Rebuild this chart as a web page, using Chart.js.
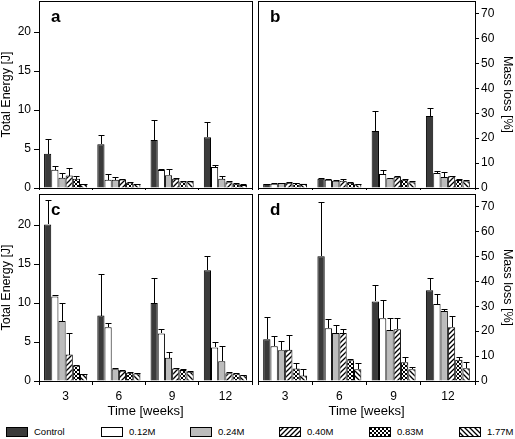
<!DOCTYPE html>
<html>
<head>
<meta charset="utf-8">
<script src="https://cdn.jsdelivr.net/npm/chart.js@4.4.1/dist/chart.umd.min.js"></script>
<style>
  body { margin: 0; background: #fff; width: 515px; height: 439px; position: relative; overflow: hidden;
         font-family: "Liberation Sans", Arial, sans-serif; }
  canvas.panel { position: absolute; }
  .sw { position: absolute; top: 427px; width: 22px; height: 10px; }
  .lt { position: absolute; top: 426px; font-size: 9.5px; line-height: 12px; color: #000; }
</style>
</head>
<body>
<canvas id="pa" class="panel" style="left:0;top:0" width="256" height="192"></canvas>
<canvas id="pb" class="panel" style="left:256px;top:0" width="259" height="192"></canvas>
<canvas id="pc" class="panel" style="left:0;top:192px" width="256" height="228"></canvas>
<canvas id="pd" class="panel" style="left:256px;top:192px" width="259" height="228"></canvas>
<div id="legend"></div>

<script>
// ---- data ----
const weeks = ['3', '6', '9', '12'];
const groups = ['Control', '0.12M', '0.24M', '0.40M', '0.83M', '1.77M'];

// a: total energy [J], means and upper error per group (rows follow `groups`)
const aMeans = [[4.4, 5.6, 6.15, 6.5], [2.35, 1.07, 2.3, 2.7], [1.3, 1.07, 1.65, 1.2],
                [1.6, 1.1, 1.2, 0.75], [1.2, 0.7, 0.85, 0.55], [0.5, 0.5, 0.85, 0.4]];
const aErrs  = [[1.9, 1.2, 2.55, 2.0], [0.45, 0.7, 0.1, 0.3], [0.6, 0.3, 0.75, 0.3],
                [1.0, 0.1, 0.1, 0.1], [0.3, 0.1, 0.1, 0.1], [0.05, 0.05, 0.05, 0.05]];
// b: mass loss [%]
const bMeans = [[1.6, 3.7, 22.9, 28.9], [1.7, 3.3, 5.6, 6.0], [2.0, 2.9, 3.9, 4.4],
                [2.1, 2.9, 4.5, 4.7], [2.0, 2.1, 3.3, 3.2], [1.7, 1.5, 2.3, 2.7]];
const bErrs  = [[0.2, 0.3, 7.8, 3.0], [0.2, 0.2, 1.5, 0.9], [0.2, 0.3, 0.3, 2.1],
                [0.2, 0.6, 0.3, 0.3], [0.2, 0.4, 0.4, 0.5], [0.1, 0.2, 0.4, 0.5]];
// c: total energy [J]
const cMeans = [[20.1, 8.4, 10.0, 14.2], [10.85, 6.9, 6.1, 4.3], [7.7, 1.5, 3.0, 2.55],
                [3.4, 1.3, 1.6, 1.0], [2.0, 1.05, 1.4, 0.95], [0.9, 0.95, 1.2, 0.75]];
const cErrs  = [[3.1, 5.3, 3.2, 1.8], [0.25, 0.5, 0.6, 0.7], [2.3, 0.2, 0.7, 1.95],
                [2.8, 0.1, 0.1, 0.1], [0.1, 0.1, 0.2, 0.1], [0.05, 0.05, 0.05, 0.05]];
// d: mass loss [%]
const dMeans = [[16.7, 50.0, 31.9, 36.4], [13.9, 21.2, 25.2, 30.9], [12.3, 19.3, 20.5, 28.1],
                [12.5, 19.3, 20.8, 21.6], [5.0, 8.3, 7.5, 8.5], [2.2, 4.7, 4.7, 5.1]];
const dErrs  = [[8.9, 21.7, 6.6, 5.1], [4.0, 3.5, 7.3, 3.8], [3.6, 3.1, 4.7, 0.9],
                [6.0, 1.6, 4.5, 4.4], [2.2, 0.4, 2.1, 1.1], [2.8, 2.6, 0.9, 2.4]];

const energyTicks = [0, 5, 10, 15, 20];
const massTicks = [0, 10, 20, 30, 40, 50, 60, 70];

const FONT = '"Liberation Sans", Arial, sans-serif';

// ---- fills: solid greys and hatch patterns ----
const makeTile = (size, draw) => {
  const c = document.createElement('canvas');
  c.width = c.height = size;
  const g = c.getContext('2d');
  g.fillStyle = '#fff'; g.fillRect(0, 0, size, size);
  g.strokeStyle = '#000'; g.lineWidth = 1.3;
  draw(g, size);
  return g.createPattern(c, 'repeat');
};
const fwd = (g, s) => { g.beginPath(); g.moveTo(-1, s + 1); g.lineTo(s + 1, -1);
  g.moveTo(-1, 1); g.lineTo(1, -1); g.moveTo(s - 1, s + 1); g.lineTo(s + 1, s - 1); g.stroke(); };
const back = (g, s) => { g.beginPath(); g.moveTo(-1, -1); g.lineTo(s + 1, s + 1);
  g.moveTo(s - 1, -1); g.lineTo(s + 1, 1); g.moveTo(-1, s - 1); g.lineTo(1, s + 1); g.stroke(); };
const fills = [
  '#3b3b3b',
  '#ffffff',
  '#bcbcbc',
  makeTile(5, fwd),
  makeTile(4, (g, s) => { g.lineWidth = 1; fwd(g, s); back(g, s); }),
  makeTile(5, back)
];

// ---- plugins ----
const framePlugin = {
  id: 'frame',
  afterDraw(chart) {
    const { ctx, chartArea: a } = chart;
    ctx.save();
    ctx.strokeStyle = '#000'; ctx.lineWidth = 1;
    ctx.strokeRect(Math.round(a.left) + 0.5, Math.round(a.top) + 0.5,
                   Math.round(a.right - a.left), Math.round(a.bottom - a.top));
    ctx.restore();
  }
};

const errorBars = {
  id: 'errorBars',
  afterDatasetsDraw(chart) {
    const { ctx } = chart;
    const y = chart.scales.y;
    ctx.save();
    ctx.strokeStyle = '#000'; ctx.lineWidth = 1;
    chart.data.datasets.forEach((ds, i) => {
      chart.getDatasetMeta(i).data.forEach((bar, j) => {
        const x = Math.round(bar.x) + 0.5;
        const top = Math.round(y.getPixelForValue(ds.data[j] + ds.errs[j])) + 0.5;
        ctx.beginPath();
        ctx.moveTo(x, Math.round(bar.y));
        ctx.lineTo(x, top);
        ctx.moveTo(x - 3, top);
        ctx.lineTo(x + 3, top);
        ctx.stroke();
      });
    });
    ctx.restore();
  }
};

const panelLetter = {
  id: 'panelLetter',
  afterDraw(chart, args, opts) {
    const { ctx, chartArea: a } = chart;
    ctx.save();
    ctx.font = 'bold 17px ' + FONT;
    ctx.fillStyle = '#000';
    ctx.textBaseline = 'alphabetic';
    ctx.fillText(opts.text, a.left + 12, a.top + 21);
    ctx.restore();
  }
};

// ---- panel factory ----
const makePanel = (id, letter, means, errs, opt) => {
  const el = document.getElementById(id);
  const yTicks = opt.right ? massTicks : energyTicks;
  return new Chart(el, {
    type: 'bar',
    data: {
      labels: weeks,
      datasets: groups.map((g, i) => ({
        label: g, data: means[i], errs: errs[i],
        backgroundColor: fills[i], borderColor: '#000', borderWidth: 1,
        categoryPercentage: 0.81, barPercentage: 1.0
      }))
    },
    options: {
      responsive: false, animation: false,
      layout: { padding: opt.pad },
      plugins: { legend: { display: false }, tooltip: { enabled: false }, panelLetter: { text: letter } },
      scales: {
        x: {
          grid: { display: true, drawOnChartArea: false, tickLength: opt.bottom ? 4 : 2, color: '#000', offset: true },
          border: { display: true, color: '#000' },
          ticks: { display: opt.bottom, color: '#000', padding: 4, font: { family: FONT, size: 12 } },
          title: { display: opt.bottom, text: 'Time [weeks]', color: '#000',
                   font: { family: FONT, size: 13, lineHeight: 1 }, padding: { top: 0, bottom: 2 } },
          afterFit: s => { s.height = opt.xh; s.paddingLeft = 0; s.paddingRight = 0; }
        },
        y: {
          position: opt.right ? 'right' : 'left',
          min: 0, max: opt.right ? 75 : 24,
          afterBuildTicks: s => { s.ticks = yTicks.map(v => ({ value: v })); },
          grid: { display: true, drawOnChartArea: false, tickLength: opt.right ? 4 : 5, color: '#000' },
          border: { display: true, color: '#000' },
          ticks: { color: '#000', padding: opt.right ? 2 : 3, font: { family: FONT, size: 12 } },
          title: { display: true, text: opt.right ? 'Mass loss [%]' : 'Total Energy [J]', color: '#000',
                   font: { family: FONT, size: 12.5, lineHeight: 1 }, padding: { top: opt.right ? 1 : 0, bottom: 0 } },
          afterFit: s => { s.width = opt.right ? 40 : 39; s.paddingTop = 0; s.paddingBottom = 0; }
        }
      }
    },
    plugins: [framePlugin, errorBars, panelLetter]
  });
};

makePanel('pa', 'a', aMeans, aErrs, { right: false, bottom: false, xh: 4, pad: { top: 1, right: 4, left: 0, bottom: 0 } });
makePanel('pb', 'b', bMeans, bErrs, { right: true, bottom: false, xh: 4, pad: { top: 1, right: 0, left: 2, bottom: 0 } });
makePanel('pc', 'c', cMeans, cErrs, { right: false, bottom: true, xh: 39, pad: { top: 2, right: 4, left: 0, bottom: 0 } });
makePanel('pd', 'd', dMeans, dErrs, { right: true, bottom: true, xh: 39, pad: { top: 2, right: 0, left: 2, bottom: 0 } });

// ---- legend ----
const swatchX = [6, 101, 190, 279, 369, 459];
const legend = document.getElementById('legend');
groups.forEach((g, i) => {
  const c = document.createElement('canvas');
  c.className = 'sw'; c.width = 22; c.height = 10;
  c.style.left = swatchX[i] + 'px';
  const x = c.getContext('2d');
  x.fillStyle = fills[i]; x.fillRect(0, 0, 22, 10);
  x.strokeStyle = '#000'; x.lineWidth = 1; x.strokeRect(0.5, 0.5, 21, 9);
  legend.appendChild(c);
  const t = document.createElement('span');
  t.className = 'lt'; t.textContent = g;
  t.style.left = (swatchX[i] + 28) + 'px';
  legend.appendChild(t);
});
</script>
</body>
</html>
